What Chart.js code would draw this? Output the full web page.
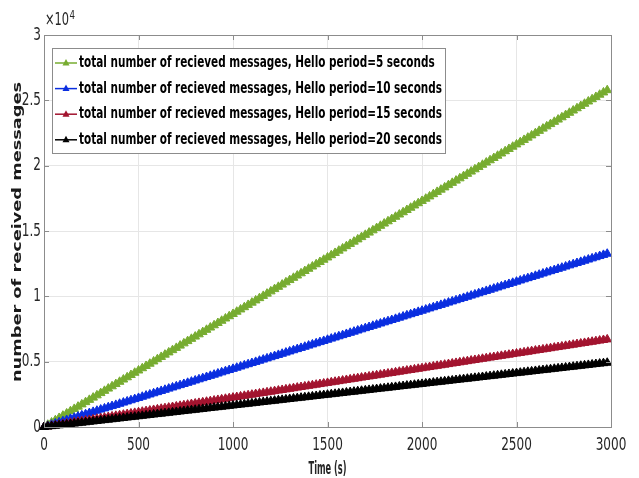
<!DOCTYPE html>
<html>
<head>
<meta charset="utf-8">
<script src="https://cdn.jsdelivr.net/npm/chart.js@4"></script>
<style>
  html, body { margin: 0; padding: 0; background: #fff; }
  canvas { display: block; }
</style>
</head>
<body>
<canvas id="msgChart" width="639" height="478"></canvas>
<script>
// time axis, one marker every 20 s
const times = [
  0,20,40,60,80,100,120,140,160,180,200,220,240,260,280,300,320,340,360,380,
  400,420,440,460,480,500,520,540,560,580,600,620,640,660,680,700,720,740,760,780,
  800,820,840,860,880,900,920,940,960,980,1000,1020,1040,1060,1080,1100,1120,1140,1160,1180,
  1200,1220,1240,1260,1280,1300,1320,1340,1360,1380,1400,1420,1440,1460,1480,1500,1520,1540,1560,1580,
  1600,1620,1640,1660,1680,1700,1720,1740,1760,1780,1800,1820,1840,1860,1880,1900,1920,1940,1960,1980,
  2000,2020,2040,2060,2080,2100,2120,2140,2160,2180,2200,2220,2240,2260,2280,2300,2320,2340,2360,2380,
  2400,2420,2440,2460,2480,2500,2520,2540,2560,2580,2600,2620,2640,2660,2680,2700,2720,2740,2760,2780,
  2800,2820,2840,2860,2880,2900,2920,2940,2960,2980
];

const hello5 = [
  0,173,346,519,692,865,1038,1211,1384,1557,1730,1903,2076,2249,2422,2595,2768,2941,3114,3287,
  3460,3633,3806,3979,4152,4325,4498,4671,4844,5017,5190,5363,5536,5709,5882,6055,6228,6401,6574,6747,
  6920,7093,7266,7439,7612,7785,7958,8131,8304,8477,8650,8823,8996,9169,9342,9515,9688,9861,10034,10207,
  10380,10553,10726,10899,11072,11245,11418,11591,11764,11937,12110,12283,12456,12629,12802,12975,13148,13321,13494,13667,
  13840,14013,14186,14359,14532,14705,14878,15051,15224,15397,15570,15743,15916,16089,16262,16435,16608,16781,16954,17127,
  17300,17473,17646,17819,17992,18165,18338,18511,18684,18857,19030,19203,19376,19549,19722,19895,20068,20241,20414,20587,
  20760,20933,21106,21279,21452,21625,21798,21971,22144,22317,22490,22663,22836,23009,23182,23355,23528,23701,23874,24047,
  24220,24393,24566,24739,24912,25085,25258,25431,25604,25777
];

const hello10 = [
  0,89,178,267,356,445,534,623,712,801,890,979,1068,1157,1246,1335,1424,1513,1602,1691,
  1780,1869,1958,2047,2136,2225,2314,2403,2492,2581,2670,2759,2848,2937,3026,3115,3204,3293,3382,3471,
  3560,3649,3738,3827,3916,4005,4094,4183,4272,4361,4450,4539,4628,4717,4806,4895,4984,5073,5162,5251,
  5340,5429,5518,5607,5696,5785,5874,5963,6052,6141,6230,6319,6408,6497,6586,6675,6764,6853,6942,7031,
  7120,7209,7298,7387,7476,7565,7654,7743,7832,7921,8010,8099,8188,8277,8366,8455,8544,8633,8722,8811,
  8900,8989,9078,9167,9256,9345,9434,9523,9612,9701,9790,9879,9968,10057,10146,10235,10324,10413,10502,10591,
  10680,10769,10858,10947,11036,11125,11214,11303,11392,11481,11570,11659,11748,11837,11926,12015,12104,12193,12282,12371,
  12460,12549,12638,12727,12816,12905,12994,13083,13172,13261
];

const hello15 = [
  0,45,90,135,180,225,270,315,360,405,450,495,540,585,630,675,720,765,810,855,
  900,945,990,1035,1080,1125,1170,1215,1260,1305,1350,1395,1440,1485,1530,1575,1620,1665,1710,1755,
  1800,1845,1890,1935,1980,2025,2070,2115,2160,2205,2250,2295,2340,2385,2430,2475,2520,2565,2610,2655,
  2700,2745,2790,2835,2880,2925,2970,3015,3060,3105,3150,3195,3240,3285,3330,3375,3420,3465,3510,3555,
  3600,3645,3690,3735,3780,3825,3870,3915,3960,4005,4050,4095,4140,4185,4230,4275,4320,4365,4410,4455,
  4500,4545,4590,4635,4680,4725,4770,4815,4860,4905,4950,4995,5040,5085,5130,5175,5220,5265,5310,5355,
  5400,5445,5490,5535,5580,5625,5670,5715,5760,5805,5850,5895,5940,5985,6030,6075,6120,6165,6210,6255,
  6300,6345,6390,6435,6480,6525,6570,6615,6660,6705
];

const hello20 = [
  0,33,66,99,132,165,198,231,264,297,330,363,396,429,462,495,528,561,594,627,
  660,693,726,759,792,825,858,891,924,957,990,1023,1056,1089,1122,1155,1188,1221,1254,1287,
  1320,1353,1386,1419,1452,1485,1518,1551,1584,1617,1650,1683,1716,1749,1782,1815,1848,1881,1914,1947,
  1980,2013,2046,2079,2112,2145,2178,2211,2244,2277,2310,2343,2376,2409,2442,2475,2508,2541,2574,2607,
  2640,2673,2706,2739,2772,2805,2838,2871,2904,2937,2970,3003,3036,3069,3102,3135,3168,3201,3234,3267,
  3300,3333,3366,3399,3432,3465,3498,3531,3564,3597,3630,3663,3696,3729,3762,3795,3828,3861,3894,3927,
  3960,3993,4026,4059,4092,4125,4158,4191,4224,4257,4290,4323,4356,4389,4422,4455,4488,4521,4554,4587,
  4620,4653,4686,4719,4752,4785,4818,4851,4884,4917
];

const seriesLabels = [
  'total number of recieved messages, Hello period=5 seconds',
  'total number of recieved messages, Hello period=10 seconds',
  'total number of recieved messages, Hello period=15 seconds',
  'total number of recieved messages, Hello period=20 seconds'
];
const seriesValues = [hello5, hello10, hello15, hello20];
const seriesColors = ['#77ac30', '#0a2ee0', '#a2142f', '#000000'];

const xTitle = 'Time (s)';
const yTitle = 'number of received messages';
const yExponent = '4';

const textColor = '#262626';
const boxColor = '#8c8c8c';

// draw text squeezed horizontally (the source image is stretched tall)
const drawScaled = (ctx, text, x, y, font, sx, align) => {
  ctx.save();
  ctx.translate(x, y);
  ctx.scale(sx, 1);
  ctx.font = font;
  ctx.textAlign = align;
  ctx.textBaseline = 'middle';
  ctx.fillText(text, 0, 0);
  ctx.restore();
};

const matlabAxes = {
  id: 'matlabAxes',
  afterDraw(chart) {
    const { ctx, chartArea: a, scales: { x, y } } = chart;
    ctx.save();

    // box + inward ticks
    ctx.strokeStyle = boxColor;
    ctx.lineWidth = 1;
    ctx.strokeRect(a.left + 0.5, a.top + 0.5, a.right - a.left, a.bottom - a.top);
    ctx.beginPath();
    x.ticks.forEach(t => {
      const px = Math.round(x.getPixelForValue(t.value)) + 0.5;
      ctx.moveTo(px, a.bottom); ctx.lineTo(px, a.bottom - 5);
      ctx.moveTo(px, a.top); ctx.lineTo(px, a.top + 5);
    });
    y.ticks.forEach(t => {
      const py = Math.round(y.getPixelForValue(t.value)) + 0.5;
      ctx.moveTo(a.left, py); ctx.lineTo(a.left + 5, py);
      ctx.moveTo(a.right, py); ctx.lineTo(a.right - 5, py);
    });
    ctx.stroke();

    // tick labels
    ctx.fillStyle = textColor;
    const tickFont = '18px "DejaVu Sans"';
    x.ticks.forEach(t => {
      drawScaled(ctx, String(t.value), x.getPixelForValue(t.value), a.bottom + 18, tickFont, 0.67, 'center');
    });
    y.ticks.forEach(t => {
      drawScaled(ctx, String(t.value / 10000), a.left - 3, y.getPixelForValue(t.value), tickFont, 0.67, 'right');
    });
    // x10^4 multiplier
    drawScaled(ctx, '\u00d710', a.left + 1, a.top - 14, '17px "DejaVu Sans"', 0.67, 'left');
    ctx.save();
    ctx.font = '17px "DejaVu Sans"';
    const multW = ctx.measureText('\u00d710').width * 0.67;
    ctx.restore();
    drawScaled(ctx, yExponent, a.left + 1 + multW + 0.5, a.top - 19, '13px "DejaVu Sans"', 0.67, 'left');

    // x title
    ctx.font = 'bold 17px "DejaVu Sans"';
    const xw = ctx.measureText(xTitle).width;
    drawScaled(ctx, xTitle, (a.left + a.right) / 2, a.bottom + 43, 'bold 17px "DejaVu Sans"', 38 / xw, 'center');

    // y title, rotated
    ctx.save();
    ctx.translate(18, 232);
    ctx.rotate(-Math.PI / 2);
    ctx.font = 'bold 13px "DejaVu Sans"';
    const yw = ctx.measureText(yTitle).width;
    ctx.scale(300 / yw, 1);
    ctx.textAlign = 'center';
    ctx.textBaseline = 'middle';
    ctx.fillStyle = '#1a1a1a';
    ctx.fillText(yTitle, 0, 0);
    ctx.restore();

    // legend box
    const lx = 52, ly = 48, lw = 393, lh = 105;
    ctx.fillStyle = '#ffffff';
    ctx.fillRect(lx, ly, lw, lh);
    ctx.strokeStyle = boxColor;
    ctx.strokeRect(lx + 0.5, ly + 0.5, lw, lh);
    const legFont = 'bold 16px "DejaVu Sans"';
    ctx.font = legFont;
    const sx = 363 / ctx.measureText(seriesLabels[1]).width;
    seriesLabels.forEach((label, i) => {
      const ry = 63 + i * 25.6;
      const c = seriesColors[i];
      ctx.strokeStyle = c;
      ctx.fillStyle = c;
      ctx.lineWidth = 1.5;
      ctx.beginPath();
      ctx.moveTo(55, ry); ctx.lineTo(77, ry);
      ctx.stroke();
      ctx.beginPath();
      ctx.moveTo(66, ry - 4); ctx.lineTo(69.5, ry + 2.5); ctx.lineTo(62.5, ry + 2.5);
      ctx.closePath();
      ctx.fill();
      ctx.fillStyle = '#000000';
      drawScaled(ctx, label, 79, ry, legFont, sx, 'left');
    });

    ctx.restore();
  }
};

const ctx = document.getElementById('msgChart').getContext('2d');

const datasets = seriesValues.map((vals, i) => ({
  label: seriesLabels[i],
  data: times.map((t, k) => ({ x: t, y: vals[k] })),
  borderColor: seriesColors[i],
  backgroundColor: seriesColors[i],
  borderWidth: 1.5,
  pointStyle: 'triangle',
  pointRadius: 5,
  pointBorderWidth: 1,
  tension: 0,
  clip: false,
  order: 3 - i
}));

new Chart(ctx, {
  type: 'line',
  data: { datasets },
  options: {
    responsive: false,
    animation: false,
    layout: { padding: { top: 35, right: 28, left: 0, bottom: 0 } },
    plugins: {
      legend: { display: false },
      tooltip: { enabled: false }
    },
    scales: {
      x: {
        type: 'linear',
        min: 0, max: 3000,
        ticks: { stepSize: 500, display: false },
        grid: { color: '#e6e6e6', drawTicks: false },
        border: { display: false },
        afterFit: (s) => { s.height = 51; }
      },
      y: {
        min: 0, max: 30000,
        ticks: { stepSize: 5000, display: false },
        grid: { color: '#e6e6e6', drawTicks: false },
        border: { display: false },
        afterFit: (s) => { s.width = 44; }
      }
    }
  },
  plugins: [matlabAxes]
});
</script>
</body>
</html>
